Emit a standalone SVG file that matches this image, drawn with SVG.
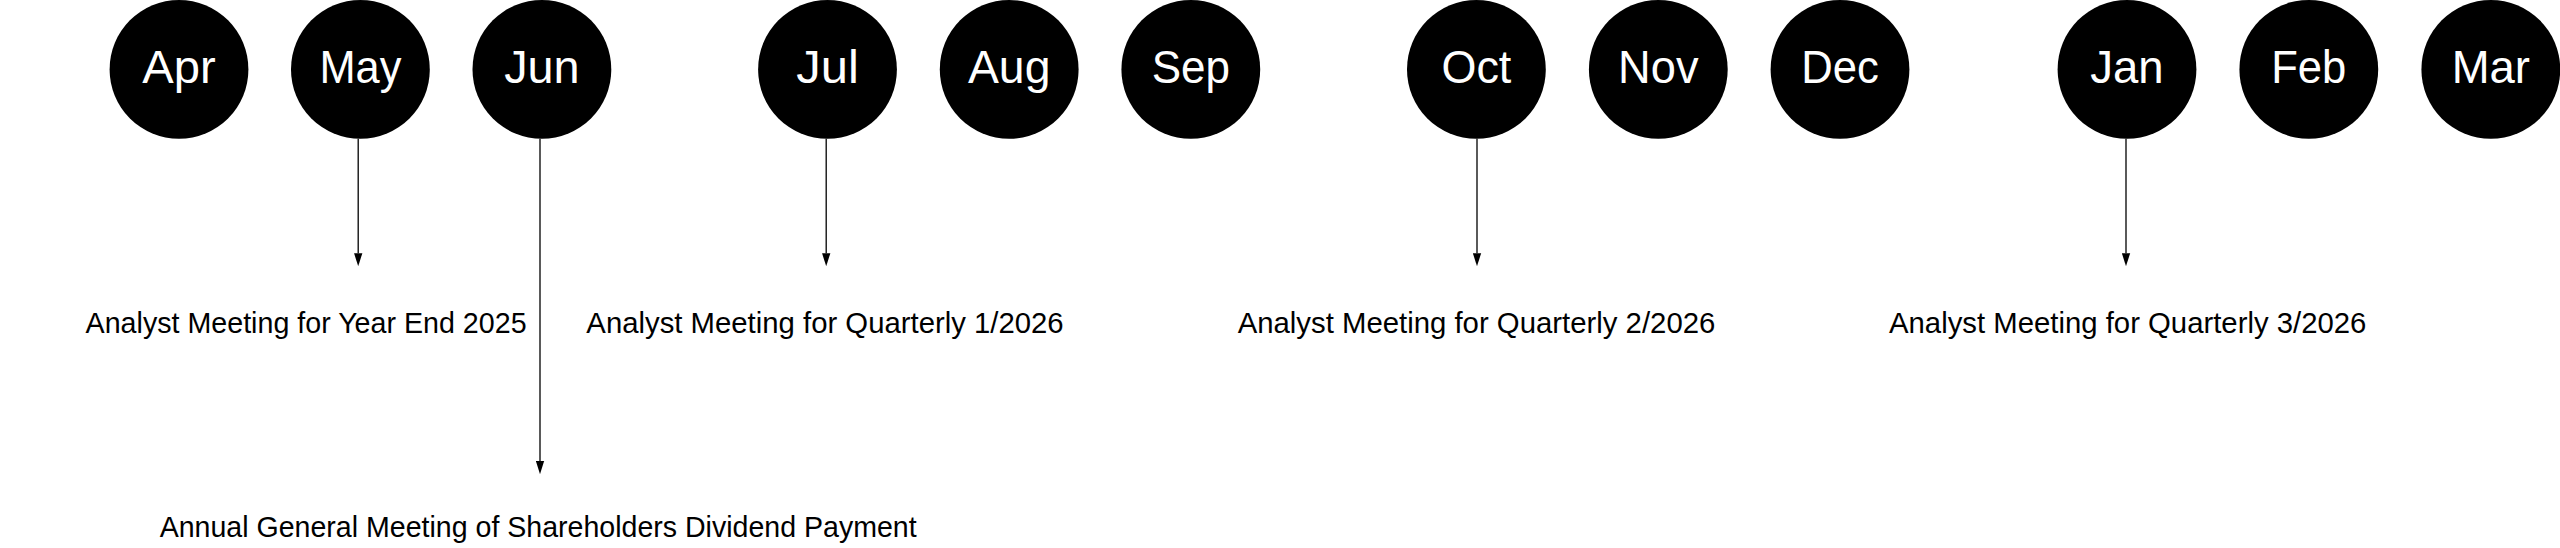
<svg xmlns="http://www.w3.org/2000/svg" width="2560" height="548" viewBox="0 0 2560 548">
<style>
  .month circle { fill: #000000; }
  .month text { fill: #ffffff; font-family: "Liberation Sans", Arial, sans-serif; font-size: 46px; text-anchor: middle; }
  .label { fill: #000000; font-family: "Liberation Sans", Arial, sans-serif; font-size: 28.8px; text-anchor: middle; }
  .conn { stroke: #000000; stroke-width: 1.3; fill: none; marker-end: url(#arrow); }
</style>
<defs>
  <marker id="arrow" markerUnits="userSpaceOnUse" markerWidth="13" markerHeight="9" refX="0" refY="4" orient="auto" viewBox="0 0 12.5 8">
    <path d="M0,0 L12.5,4 L0,8 Z" fill="#000000"/>
  </marker>
</defs>
<rect x="0" y="0" width="2560" height="548" fill="#ffffff"/>

<g id="node-apr" class="month"><circle cx="179" cy="69.4" r="69.4"/><text x="179" y="82.5" textLength="73.4" lengthAdjust="spacingAndGlyphs">Apr</text></g>
<g id="node-may" class="month"><circle cx="360.4" cy="69.4" r="69.4"/><text x="360.4" y="82.5" textLength="82" lengthAdjust="spacingAndGlyphs">May</text></g>
<g id="node-jun" class="month"><circle cx="541.9" cy="69.4" r="69.4"/><text x="541.9" y="82.5" textLength="75.5" lengthAdjust="spacingAndGlyphs">Jun</text></g>
<g id="node-jul" class="month"><circle cx="827.5" cy="69.4" r="69.4"/><text x="827.5" y="82.5" textLength="62.6" lengthAdjust="spacingAndGlyphs">Jul</text></g>
<g id="node-aug" class="month"><circle cx="1009.2" cy="69.4" r="69.4"/><text x="1009.2" y="82.5" textLength="82.5" lengthAdjust="spacingAndGlyphs">Aug</text></g>
<g id="node-sep" class="month"><circle cx="1190.8" cy="69.4" r="69.4"/><text x="1190.8" y="82.5" textLength="78.3" lengthAdjust="spacingAndGlyphs">Sep</text></g>
<g id="node-oct" class="month"><circle cx="1476.4" cy="69.4" r="69.4"/><text x="1476.4" y="82.5" textLength="69.9" lengthAdjust="spacingAndGlyphs">Oct</text></g>
<g id="node-nov" class="month"><circle cx="1658.3" cy="69.4" r="69.4"/><text x="1658.3" y="82.5" textLength="80.4" lengthAdjust="spacingAndGlyphs">Nov</text></g>
<g id="node-dec" class="month"><circle cx="1840" cy="69.4" r="69.4"/><text x="1840" y="82.5" textLength="77.6" lengthAdjust="spacingAndGlyphs">Dec</text></g>
<g id="node-jan" class="month"><circle cx="2127" cy="69.4" r="69.4"/><text x="2127" y="82.5" textLength="73.4" lengthAdjust="spacingAndGlyphs">Jan</text></g>
<g id="node-feb" class="month"><circle cx="2308.8" cy="69.4" r="69.4"/><text x="2308.8" y="82.5" textLength="75.1" lengthAdjust="spacingAndGlyphs">Feb</text></g>
<g id="node-mar" class="month"><circle cx="2490.8" cy="69.4" r="69.4"/><text x="2490.8" y="82.5" textLength="78.3" lengthAdjust="spacingAndGlyphs">Mar</text></g>

<g id="connectors">
  <line class="conn" x1="358.2" y1="138.8" x2="358.2" y2="253.2"/>
  <line class="conn" x1="540" y1="138.8" x2="540" y2="461.1"/>
  <line class="conn" x1="826.2" y1="138.8" x2="826.2" y2="253.2"/>
  <line class="conn" x1="1477" y1="138.8" x2="1477" y2="253.2"/>
  <line class="conn" x1="2126" y1="138.8" x2="2126" y2="253.2"/>
</g>

<g id="label-ye2025"><text class="label" x="306.1" y="332.7" textLength="441" lengthAdjust="spacingAndGlyphs">Analyst Meeting for Year End 2025</text></g>
<g id="label-q1"><text class="label" x="825" y="332.7" textLength="477.3" lengthAdjust="spacingAndGlyphs">Analyst Meeting for Quarterly 1/2026</text></g>
<g id="label-q2"><text class="label" x="1476.5" y="332.7" textLength="477.7" lengthAdjust="spacingAndGlyphs">Analyst Meeting for Quarterly 2/2026</text></g>
<g id="label-q3"><text class="label" x="2127.7" y="332.7" textLength="477.4" lengthAdjust="spacingAndGlyphs">Analyst Meeting for Quarterly 3/2026</text></g>
<g id="label-agm"><text class="label" x="538.2" y="537.2" textLength="757" lengthAdjust="spacingAndGlyphs">Annual General Meeting of Shareholders Dividend Payment</text></g>
</svg>
